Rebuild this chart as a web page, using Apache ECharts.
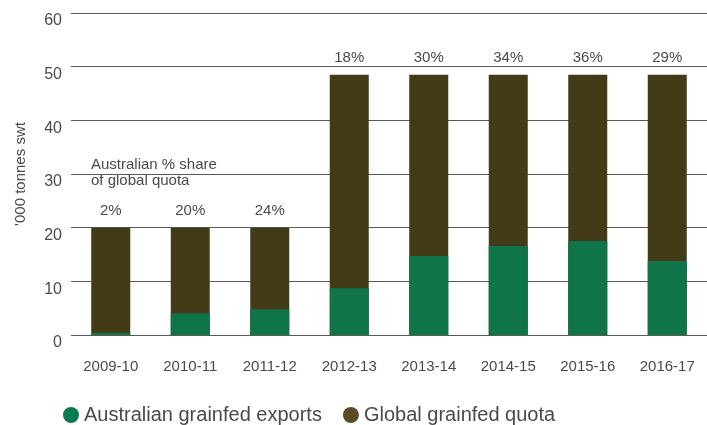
<!DOCTYPE html>
<html>
<head>
<meta charset="utf-8">
<script src="https://cdn.jsdelivr.net/npm/echarts@6/dist/echarts.min.js"></script>
<style>
  html, body { margin: 0; padding: 0; background: #fff; }
  #chart { width: 707px; height: 425px; }
</style>
</head>
<body>
<div id="chart"></div>
<script>
// Seasons on the x axis
const categories = ['2009-10', '2010-11', '2011-12', '2012-13', '2013-14', '2014-15', '2015-16', '2016-17'];
// Global grainfed quota ('000 tonnes swt)
const globalQuota = [20, 20, 20, 48.5, 48.5, 48.5, 48.5, 48.5];
// Australian grainfed exports ('000 tonnes swt)
const australianExports = [0.4, 4.0, 4.8, 8.7, 14.7, 16.6, 17.5, 13.8];
// Australian share of the global quota (%)
const sharePct = [2, 20, 24, 18, 30, 34, 36, 29];
// Y axis ticks
const yMin = 0, yMax = 60, yStep = 10;

const FONT = '"Liberation Sans", Arial, sans-serif';
const TEXT = '#4a4a4a';
const GREEN = '#0f7449';
const BROWN = '#433a18';

const chart = echarts.init(document.getElementById('chart'));
chart.setOption({
  animation: false,
  textStyle: { fontFamily: FONT },
  grid: { left: 71, right: 0, top: 13, bottom: 90 },
  legend: {
    left: 58,
    top: 400,
    icon: 'circle',
    itemWidth: 16,
    itemHeight: 16,
    itemGap: 21,
    textStyle: { fontFamily: FONT, fontSize: 20, color: TEXT },
    data: [
      { name: 'Australian grainfed exports', itemStyle: { color: '#0a7a4f' } },
      { name: 'Global grainfed quota', itemStyle: { color: '#5a4a25' } }
    ]
  },
  xAxis: {
    type: 'category',
    data: categories,
    axisLine: { show: false },
    axisTick: { show: false },
    axisLabel: { color: TEXT, fontSize: 15, fontFamily: FONT, margin: 24 }
  },
  yAxis: {
    type: 'value',
    min: yMin,
    max: yMax,
    interval: yStep,
    name: "'000 tonnes swt",
    nameLocation: 'middle',
    nameGap: 43,
    nameTextStyle: { color: TEXT, fontSize: 15, fontFamily: FONT },
    axisLine: { show: false },
    axisTick: { show: false },
    axisLabel: { color: TEXT, fontSize: 16, fontFamily: FONT, margin: 9, verticalAlign: 'top', lineHeight: 16 },
    splitLine: { lineStyle: { color: '#5a5a5a', width: 1 } }
  },
  graphic: [{
    type: 'text',
    left: 91,
    top: 157,
    style: {
      text: 'Australian % share\nof global quota',
      font: '15px ' + FONT,
      fill: TEXT,
      lineHeight: 16
    }
  }],
  series: [
    {
      name: 'Global grainfed quota',
      type: 'bar',
      data: globalQuota,
      barWidth: 39,
      barGap: '-100%',
      itemStyle: { color: BROWN },
      label: {
        show: true,
        position: 'top',
        distance: 9,
        color: TEXT,
        fontSize: 15,
        fontFamily: FONT,
        formatter: p => sharePct[p.dataIndex] + '%'
      },
      z: 2
    },
    {
      name: 'Australian grainfed exports',
      type: 'bar',
      data: australianExports,
      barWidth: 39,
      itemStyle: { color: GREEN },
      z: 3
    }
  ]
});
</script>
</body>
</html>
